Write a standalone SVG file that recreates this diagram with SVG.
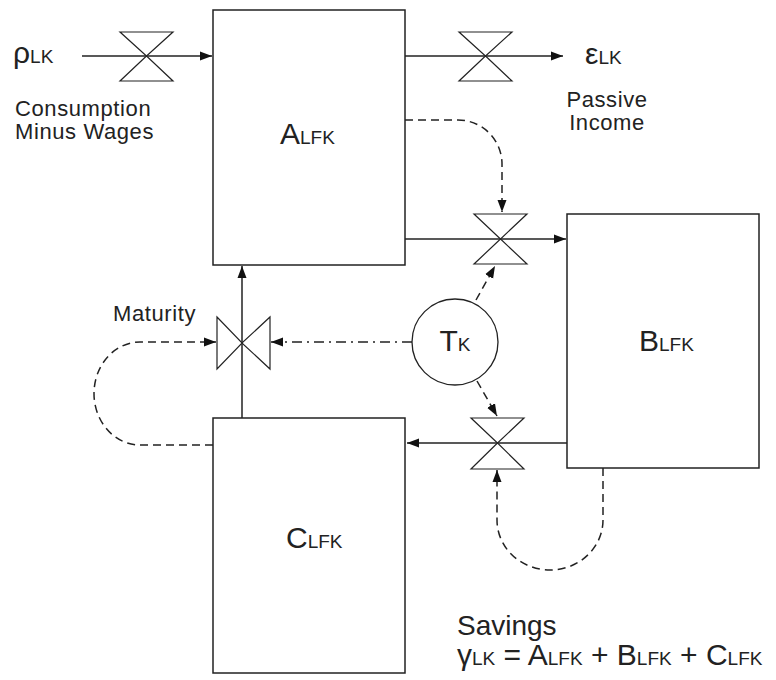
<svg xmlns="http://www.w3.org/2000/svg" width="776" height="680" viewBox="0 0 776 680">
<style>
text{font-family:"Liberation Sans",Arial,sans-serif;fill:#222}
.box{fill:#fff;stroke:#222;stroke-width:1.5}
.ln{fill:none;stroke:#222;stroke-width:1.5}
.vl{fill:#fff;stroke:#222;stroke-width:1.2}
.ds{fill:none;stroke:#222;stroke-width:1.5;stroke-dasharray:8 5}
.dd{fill:none;stroke:#222;stroke-width:1.5;stroke-dasharray:10 5 2 5}
.lbl{font-size:22px;letter-spacing:0.6px}
.big{font-size:30px}
.sm{font-size:19px}
</style>
<defs>
<marker id="ah" viewBox="0 0 12 10" refX="12" refY="5" markerWidth="12" markerHeight="10" markerUnits="userSpaceOnUse" orient="auto">
<path d="M0,0.5 L12,5 L0,9.5 z" fill="#111"/>
</marker>
</defs>
<g id="connectors">
<line class="ln" x1="82" y1="56" x2="212" y2="56" marker-end="url(#ah)"/>
<line class="ln" x1="405" y1="56" x2="563" y2="56" marker-end="url(#ah)"/>
<line class="ln" x1="405" y1="239" x2="566" y2="239" marker-end="url(#ah)"/>
<line class="ln" x1="567" y1="443" x2="407" y2="443" marker-end="url(#ah)"/>
<line class="ln" x1="242" y1="418" x2="242" y2="266" marker-end="url(#ah)"/>
<path class="ds" d="M405 120 H458 A44 44 0 0 1 502 164 V212" marker-end="url(#ah)"/>
<path class="ds" d="M476 300 L495 266" marker-end="url(#ah)"/>
<path class="ds" d="M477 381 L497 416" marker-end="url(#ah)"/>
<path class="dd" d="M412 342 H271" marker-end="url(#ah)"/>
<path class="ds" d="M603 468 V520 A53 50 0 0 1 497 520 V470" marker-end="url(#ah)"/>
<path class="ds" d="M213 445 H140 A46 51.5 0 0 1 140 342 H216" marker-end="url(#ah)"/>
</g>
<g id="valve-in"><polygon class="vl" points="120,32 173,32 146.5,56 173,81 120,81 146.5,56"/></g>
<g id="valve-out"><polygon class="vl" points="459,32 512,32 485.5,56 512,81 459,81 485.5,56"/></g>
<g id="valve-ab"><polygon class="vl" points="474,214 527,214 500.5,239 527,264 474,264 500.5,239"/></g>
<g id="valve-bc"><polygon class="vl" points="471,418 524,418 497.5,443 524,469 471,469 497.5,443"/></g>
<g id="valve-maturity"><polygon class="vl" points="217,317 242,343 270,317 270,369 242,343 217,369"/></g>
<g id="node-A"><rect class="box" x="213" y="10" width="192" height="255"/>
<text x="280" y="144"><tspan class="big">A</tspan><tspan class="sm">LFK</tspan></text></g>
<g id="node-B"><rect class="box" x="567" y="214" width="192" height="254"/>
<text x="639" y="351"><tspan class="big">B</tspan><tspan class="sm">LFK</tspan></text></g>
<g id="node-C"><rect class="box" x="213" y="418" width="192" height="255"/>
<text x="286" y="548"><tspan class="big">C</tspan><tspan class="sm">LFK</tspan></text></g>
<g id="node-T"><circle cx="455" cy="342" r="43" fill="#fff" stroke="#222" stroke-width="1.3"/>
<text x="455" y="351" text-anchor="middle"><tspan class="big">T</tspan><tspan class="sm">K</tspan></text></g>
<g id="labels">
<text x="13" y="63"><tspan class="big">ρ</tspan><tspan class="sm">LK</tspan></text>
<text class="lbl" x="15" y="116">Consumption</text>
<text class="lbl" x="15" y="139">Minus Wages</text>
<text x="585" y="64"><tspan class="big">ε</tspan><tspan class="sm">LK</tspan></text>
<text class="lbl" x="607" y="107" text-anchor="middle">Passive</text>
<text class="lbl" x="607" y="130" text-anchor="middle">Income</text>
<text class="lbl" x="113" y="321">Maturity</text>
<text x="457" y="635" style="font-size:28px">Savings</text>
<text x="457" y="665"><tspan class="big">γ</tspan><tspan class="sm">LK</tspan><tspan class="big"> = A</tspan><tspan class="sm">LFK</tspan><tspan class="big"> + B</tspan><tspan class="sm">LFK</tspan><tspan class="big"> + C</tspan><tspan class="sm">LFK</tspan></text>
</g>
</svg>
